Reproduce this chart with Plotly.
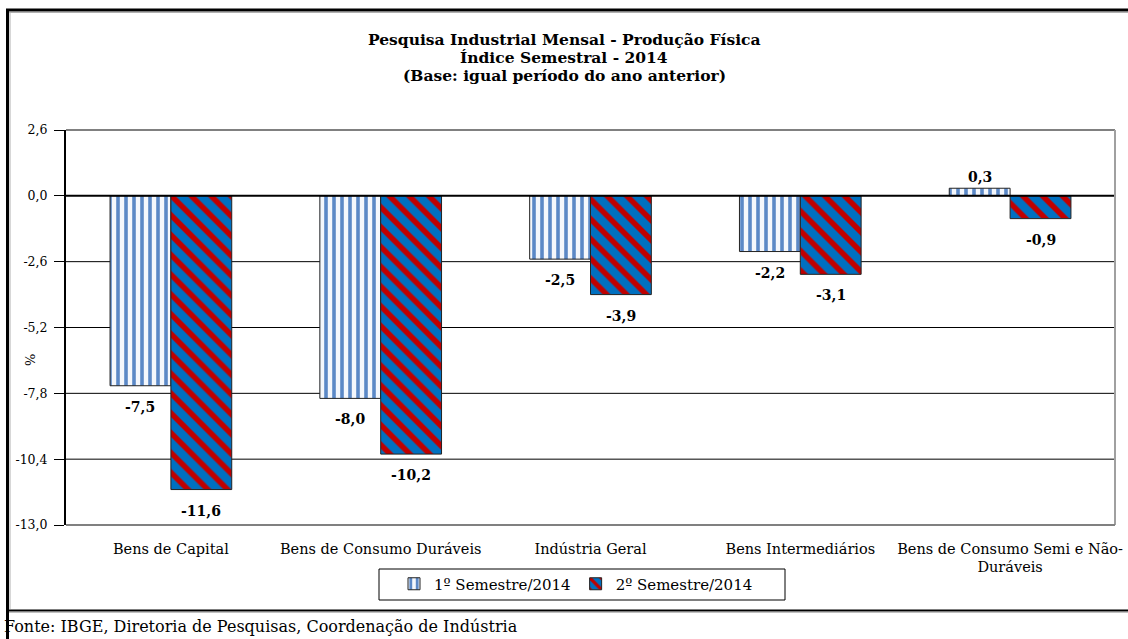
import plotly.graph_objects as go

categories = ["Bens de Capital", "Bens de Consumo Duráveis", "Indústria Geral",
              "Bens Intermediários", "Bens de Consumo Semi e Não-<br>Duráveis"]
sem1 = [-7.5, -8.0, -2.5, -2.2, 0.3]
sem2 = [-11.6, -10.2, -3.9, -3.1, -0.9]
series_names = ["1º Semestre/2014", "2º Semestre/2014"]
tick_vals = [2.6, 0.0, -2.6, -5.2, -7.8, -10.4, -13.0]
title_lines = ["Pesquisa Industrial Mensal - Produção Física",
               "Índice Semestral - 2014",
               "(Base: igual período do ano anterior)"]
source_text = "Fonte: IBGE, Diretoria de Pesquisas, Coordenação de Indústria"

FONT = "DejaVu Serif"
W, H = 1128, 639
L, R, T, B = 66, 1115, 130, 525
BARGAP = 0.42


def px(x):
    return (x - L) / (R - L)


def py(y):
    return (B - y) / (B - T)


def fmt(v):
    return f"{v:.1f}".replace(".", ",")


fig = go.Figure()
fig.add_trace(go.Bar(
    x=categories, y=sem1, name=series_names[0],
    marker=dict(color="white",
                line=dict(color="#222222", width=1),
                pattern=dict(shape="|", fgcolor="#5b88c6", bgcolor="#f4f7fc",
                             size=8, solidity=0.45, fillmode="replace")),
))
fig.add_trace(go.Bar(
    x=categories, y=sem2, name=series_names[1],
    marker=dict(color="#0070c0",
                line=dict(color="#222222", width=1),
                pattern=dict(shape="\\", fgcolor="#c00000", bgcolor="#0070c0",
                             size=14, solidity=0.4, fillmode="replace")),
))

shapes = []
for v in tick_vals[2:-1]:
    shapes.append(dict(type="line", xref="paper", yref="y", x0=0, x1=1, y0=v, y1=v,
                       line=dict(color="black", width=1), layer="below"))
shapes.append(dict(type="line", xref="paper", yref="y", x0=0, x1=1, y0=0, y1=0,
                   line=dict(color="black", width=2), layer="above"))
shapes.append(dict(type="line", xref="paper", yref="paper", x0=0, x1=1, y0=1, y1=1,
                   line=dict(color="#808080", width=2)))
shapes.append(dict(type="line", xref="paper", yref="paper", x0=1, x1=1, y0=0, y1=1,
                   line=dict(color="#a0a0a0", width=2)))
shapes.append(dict(type="line", xref="paper", yref="paper", x0=0, x1=1, y0=0, y1=0,
                   line=dict(color="#808080", width=2)))
# outer frame
shapes.append(dict(type="line", xref="paper", yref="paper", x0=px(6), x1=px(1135),
                   y0=py(10), y1=py(10), line=dict(color="black", width=3)))
shapes.append(dict(type="line", xref="paper", yref="paper", x0=px(9), x1=px(1135),
                   y0=py(12.5), y1=py(12.5), line=dict(color="#b0b0b0", width=1)))
shapes.append(dict(type="line", xref="paper", yref="paper", x0=px(7.5), x1=px(7.5),
                   y0=py(9), y1=py(640), line=dict(color="black", width=3)))
shapes.append(dict(type="line", xref="paper", yref="paper", x0=px(10), x1=px(10),
                   y0=py(12), y1=py(609), line=dict(color="#b0b0b0", width=1)))
shapes.append(dict(type="line", xref="paper", yref="paper", x0=px(7), x1=px(1135),
                   y0=py(610.5), y1=py(610.5), line=dict(color="black", width=2)))
shapes.append(dict(type="line", xref="paper", yref="paper", x0=px(9), x1=px(1135),
                   y0=py(612.5), y1=py(612.5), line=dict(color="#c0c0c0", width=1)))
# legend box
shapes.append(dict(type="rect", xref="paper", yref="paper", x0=px(379), x1=px(785),
                   y0=py(569), y1=py(600), line=dict(color="black", width=1)))

annotations = []
for i, line in enumerate(title_lines):
    annotations.append(dict(text=f"<b>{line}</b>", xref="paper", yref="paper",
                            x=px(564), y=py(40 + 18 * i), xanchor="center", yanchor="middle",
                            showarrow=False, font=dict(family=FONT, size=15.5, color="black")))
annotations.append(dict(text=source_text, xref="paper", yref="paper", x=px(2), y=py(626),
                        xanchor="left", yanchor="middle", showarrow=False,
                        font=dict(family=FONT, size=16, color="black")))
annotations.append(dict(text="%", xref="paper", yref="paper", x=px(30), y=py(360),
                        xanchor="center", yanchor="middle", textangle=-90, showarrow=False,
                        font=dict(family=FONT, size=13, color="black")))

# value labels
cat_px = (R - L) / len(categories)
bar_px = cat_px * (1 - BARGAP) / 2
for series, sign in ((sem1, -1), (sem2, 1)):
    for c, v in zip(categories, series):
        annotations.append(dict(
            text=f"<b>{fmt(v)}</b>", x=c, y=v, xref="x", yref="y",
            xshift=sign * bar_px / 2, yshift=(-21 if v < 0 else 11),
            xanchor="center", yanchor="middle", showarrow=False,
            font=dict(family=FONT, size=14, color="black")))

fig.update_layout(
    width=W, height=H,
    margin=dict(l=L, r=W - R, t=T, b=H - B, autoexpand=False),
    paper_bgcolor="white", plot_bgcolor="white",
    barmode="group", bargap=BARGAP, bargroupgap=0,
    font=dict(family=FONT, size=14, color="black"),
    shapes=shapes, annotations=annotations,
    showlegend=True,
    legend=dict(orientation="h", x=px(576), xanchor="center", y=py(584), yanchor="middle",
                borderwidth=0, bgcolor="rgba(0,0,0,0)",
                font=dict(family=FONT, size=15, color="black"),
                itemwidth=30, tracegroupgap=0),
    xaxis=dict(showgrid=False, showline=False, ticks="", automargin=False,
               tickfont=dict(family=FONT, size=14.5), ticklabelstandoff=13),
    yaxis=dict(range=[-13.0, 2.6], tickvals=tick_vals, ticktext=[fmt(v) for v in tick_vals],
               showgrid=False, zeroline=False, showline=True, linecolor="black", linewidth=2,
               ticks="outside", ticklen=10, tickcolor="black", automargin=False,
               ticklabelstandoff=4,
               tickfont=dict(family=FONT, size=12.5)),
)

fig.write_html("out.html", config={"displayModeBar": False},
               post_script="document.body.style.margin='0';document.body.style.overflow='hidden';")
